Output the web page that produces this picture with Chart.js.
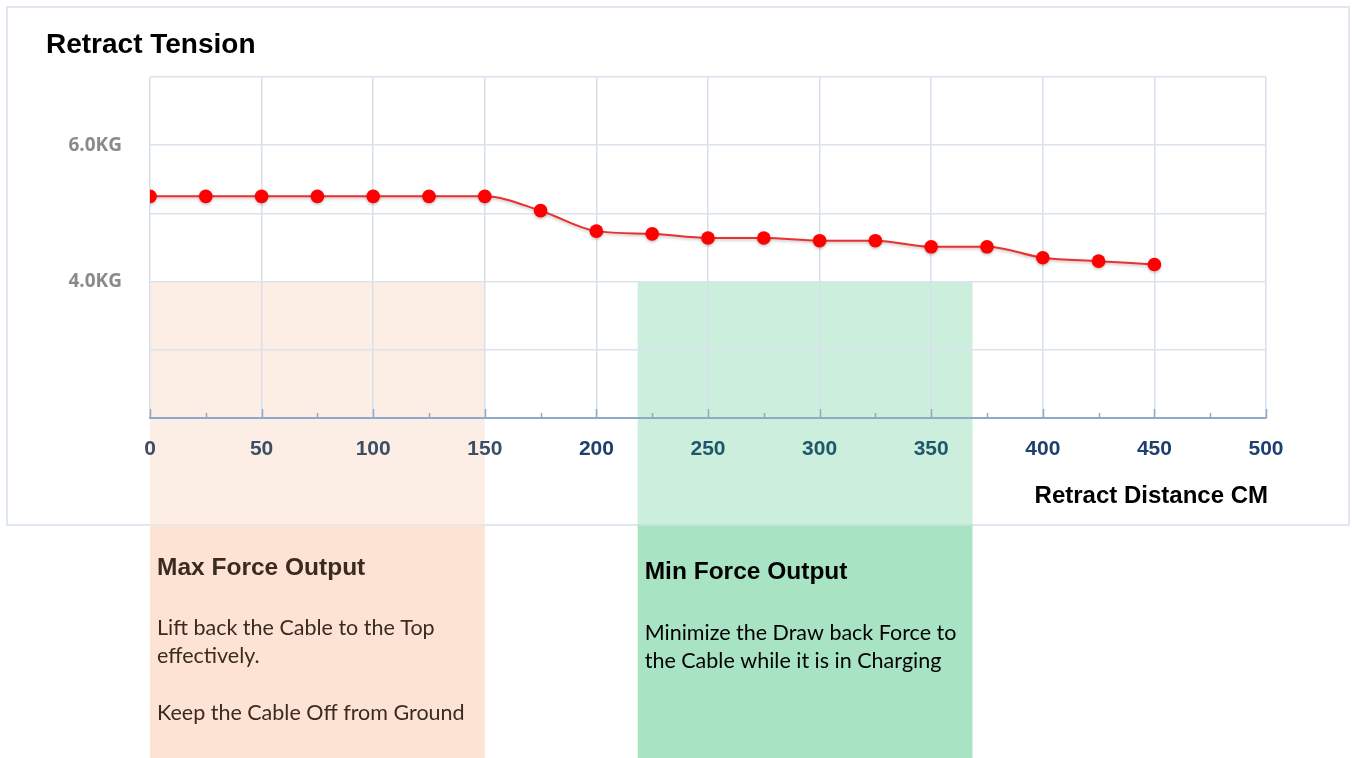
<!DOCTYPE html>
<html>
<head>
<meta charset="utf-8">
<script src="https://cdn.jsdelivr.net/npm/chart.js@4.4.0/dist/chart.umd.min.js"></script>
<style>
  body { margin: 0; background: #fff; }
  #wrap { width: 1352px; height: 758px; position: relative; }
</style>
</head>
<body>
<div id="wrap"><canvas id="mycanvas"></canvas></div>
<script>
// distance (cm) and retract tension (kg)
var distance = [0, 25, 50, 75, 100, 125, 150, 175, 200, 225, 250, 275, 300, 325, 350, 375, 400, 425, 450];
var tension = [5.25, 5.25, 5.25, 5.25, 5.25, 5.25, 5.25, 5.04, 4.74, 4.70, 4.64, 4.64, 4.60, 4.60, 4.51, 4.51, 4.35, 4.30, 4.25];

var yLabelValues = [4, 6];
var yLabelText = ['4.0KG', '6.0KG'];

// shaded regions: x from/to, top value
var regionFrom = [0, 218.5];
var regionTo = [150, 368.5];
var regionTop = [4.0, 4.0];
var regionColor = ['252,227,212', '168,228,196'];
var regionTitle = ['Max Force Output', 'Min Force Output'];
var regionLines = [
	['Lift back the Cable to the Top', 'effectively.', '', 'Keep the Cable Off from Ground'],
	['Minimize the Draw back Force to', 'the Cable while it is in Charging']
];
var regionTextColor = ['#3a2b21', '#000000'];

var chartTitle = 'Retract Tension';
var xTitle = 'Retract Distance CM';

var points = [];
for (var i in distance) {
	points.push({x: distance[i], y: tension[i]});
}

var frameBottom = 525;

var framePlugin = {
	id: 'frame',
	beforeDraw: function(chart) {
		var ctx = chart.ctx;
		var xs = chart.scales.x, ys = chart.scales.y;
		ctx.save();
		ctx.strokeStyle = '#dfe7f0';
		ctx.lineWidth = 2;
		ctx.strokeRect(7, 7, 1342, frameBottom - 7);
		for (var r = 0; r < regionFrom.length; r++) {
			var x1 = xs.getPixelForValue(regionFrom[r]);
			var x2 = xs.getPixelForValue(regionTo[r]);
			var y1 = ys.getPixelForValue(regionTop[r]);
			ctx.fillStyle = 'rgba(' + regionColor[r] + ',0.6)';
			ctx.fillRect(x1, y1, x2 - x1, frameBottom + 1 - y1);
			ctx.fillStyle = 'rgb(' + regionColor[r] + ')';
			ctx.fillRect(x1, frameBottom + 1, x2 - x1, chart.height - frameBottom - 1);
		}
		ctx.restore();
	},
	beforeDatasetsDraw: function(chart) {
		// small tick marks standing up from the x axis
		var ctx = chart.ctx;
		var xs = chart.scales.x;
		var yb = chart.chartArea.bottom;
		ctx.save();
		ctx.strokeStyle = '#8eaac8';
		ctx.lineWidth = 1.5;
		for (var v = 0; v <= 500; v += 25) {
			var px = Math.round(xs.getPixelForValue(v)) + 0.5;
			var len = (v % 50 === 0) ? 9 : 5;
			ctx.beginPath();
			ctx.moveTo(px, yb);
			ctx.lineTo(px, yb - len);
			ctx.stroke();
		}
		ctx.restore();
	},
	beforeDatasetDraw: function(chart) {
		var ctx = chart.ctx;
		ctx.save();
		ctx.shadowColor = 'rgba(0,0,0,0.25)';
		ctx.shadowBlur = 3;
		ctx.shadowOffsetY = 1.5;
	},
	afterDatasetDraw: function(chart) {
		chart.ctx.restore();
	},
	afterDraw: function(chart) {
		var ctx = chart.ctx;
		var xs = chart.scales.x;
		ctx.save();
		ctx.textBaseline = 'middle';
		ctx.fillStyle = '#000';
		ctx.font = 'bold 28px "Liberation Sans", Arial, sans-serif';
		ctx.textAlign = 'left';
		ctx.fillText(chartTitle, 46, 45);
		ctx.font = 'bold 24px "Liberation Sans", Arial, sans-serif';
		ctx.textAlign = 'right';
		ctx.fillText(xTitle, chart.chartArea.right + 2, 496);

		ctx.textAlign = 'left';
		var titleY = [568, 572];
		var bodyY = [628, 633];
		for (var r = 0; r < regionFrom.length; r++) {
			var x1 = xs.getPixelForValue(regionFrom[r]);
			ctx.fillStyle = regionTextColor[r];
			ctx.font = 'bold 24.5px "Liberation Sans", Arial, sans-serif';
			ctx.fillText(regionTitle[r], x1 + 7, titleY[r]);
			ctx.font = '21.5px Lato, "Open Sans", sans-serif';
			for (var k = 0; k < regionLines[r].length; k++) {
				ctx.fillText(regionLines[r][k], x1 + 7, bodyY[r] + k * 28.5);
			}
		}
		ctx.restore();
	}
};

function tickColor(v) {
	for (var r = 0; r < regionFrom.length; r++) {
		if (v >= regionFrom[r] && v <= regionTo[r]) {
			return r === 0 ? '#3c4e66' : '#1f576b';
		}
	}
	return '#1f3f6e';
}

var ctx = document.getElementById('mycanvas');

var chart = new Chart(ctx, {
	type: 'line',
	data: {
		datasets: [{
			label: 'Retract Tension',
			data: points,
			borderColor: '#ec2f2f',
			borderWidth: 2,
			backgroundColor: '#ff0000',
			pointBackgroundColor: '#ff0000',
			pointBorderColor: '#ff0000',
			pointBorderWidth: 0,
			pointRadius: 6.8,
			cubicInterpolationMode: 'monotone',
			fill: false
		}]
	},
	plugins: [framePlugin],
	options: {
		responsive: true,
		maintainAspectRatio: false,
		animation: false,
		layout: { padding: { top: 77, left: 0, right: 86, bottom: 240 } },
		plugins: {
			legend: { display: false },
			tooltip: { enabled: false },
			title: { display: false }
		},
		scales: {
			x: {
				type: 'linear',
				min: 0,
				max: 500,
				afterFit: function(scale) { scale.height = 100; },
				border: { display: true, color: '#8eaac8', width: 2 },
				grid: {
					drawTicks: false,
					color: function(c) {
						return (c.tick && c.tick.value % 50 === 0) ? '#d6e0eb' : 'rgba(0,0,0,0)';
					},
					lineWidth: 1.5
				},
				ticks: {
					stepSize: 25,
					autoSkip: false,
					maxRotation: 0,
					padding: 19,
					color: function(c) { return tickColor(c.tick.value); },
					font: { family: '"Liberation Sans", Arial, sans-serif', size: 21, weight: 'bold' },
					callback: function(v) { return v % 50 === 0 ? String(v) : ''; }
				}
			},
			y: {
				min: 2,
				max: 7,
				afterFit: function(scale) { scale.width = 150; },
				border: { display: false },
				grid: {
					drawTicks: false,
					color: function(c) {
						return c.tick && c.tick.value === 2 ? 'rgba(0,0,0,0)' : '#dae3ed';
					},
					lineWidth: 1.5
				},
				ticks: {
					stepSize: 1,
					padding: 28,
					color: '#8a8a8a',
					font: { family: '"Open Sans", sans-serif', size: 19, weight: 'bold' },
					callback: function(v) {
						var idx = yLabelValues.indexOf(v);
						return idx >= 0 ? yLabelText[idx] : '';
					}
				}
			}
		}
	}
});
</script>
</body>
</html>
